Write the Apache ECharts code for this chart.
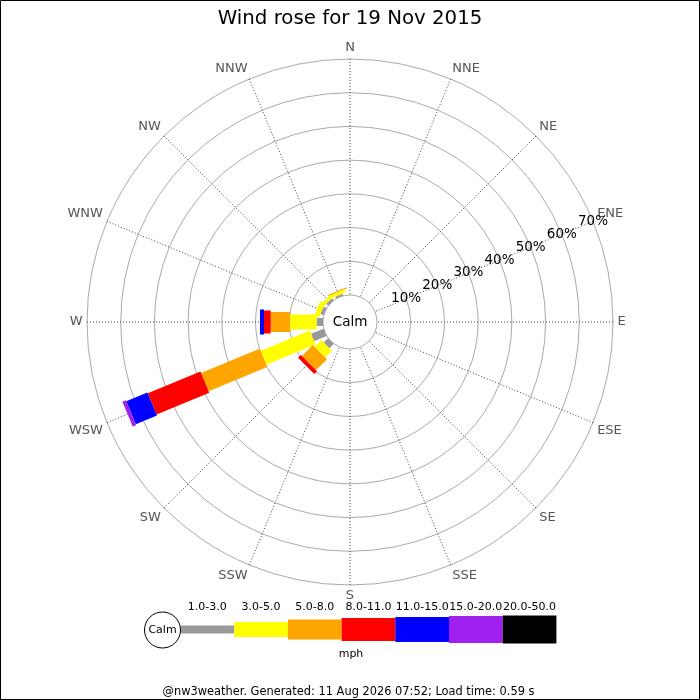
<!DOCTYPE html>
<html><head><meta charset="utf-8">
<script src="https://cdn.jsdelivr.net/npm/echarts@6/dist/echarts.min.js"></script>
<style>html,body{margin:0;padding:0;background:#fff}#c{width:700px;height:700px}</style>
</head><body><div id="c"></div>
<script>
// ---- data ----
const directions = ['N','NNE','NE','ENE','E','ESE','SE','SSE','S','SSW','SW','WSW','W','WNW','NW','NNW'];
const speedBins = ['1.0-3.0','3.0-5.0','5.0-8.0','8.0-11.0','11.0-15.0','15.0-20.0','20.0-50.0'];
// percentage of time, per direction (N..NNW), per speed bin (mph)
const bin1_3   = [0,0,0,0,0,0,0,0,0,0,1.8, 4.0,1.9,1.0,0.8,0.6];
const bin3_5   = [0,0,0,0,0,0,0,0,0,0,2.8,15.8,7.9,1.5,1.0,1.0];
const bin5_8   = [0,0,0,0,0,0,0,0,0,0,4.6,18.8,5.7,0,0,0.3];
const bin8_11  = [0,0,0,0,0,0,0,0,0,0,1.2,16.9,2.0,0,0,0];
const bin11_15 = [0,0,0,0,0,0,0,0,0,0,0, 6.8,1.2,0,0,0];
const bin15_20 = [0,0,0,0,0,0,0,0,0,0,0, 1.1,0,0,0,0];
const bin20_50 = [0,0,0,0,0,0,0,0,0,0,0, 0,0,0,0,0];
const binValues = [bin1_3, bin3_5, bin5_8, bin8_11, bin11_15, bin15_20, bin20_50];
const radiusTickLabels = ['', '10%','20%','30%','40%','50%','60%','70%'];

// ---- styles ----
const binColors = ['#999999','#ffff00','#ffa500','#ff0000','#0000ff','#a020f0','#000000'];
const binWidths = [8, 15, 20, 23, 25, 27, 28];
const CENTER = [350, 322];
const RADII = [27, 263];

const chart = echarts.init(document.getElementById('c'), null, {renderer: 'canvas'});

function makeRender(width, color) {
  return function (params, api) {
    const r0 = api.value(0), r1 = api.value(1), ang = api.value(2);
    const a = api.coord([r0, ang]), b = api.coord([r1, ang]);
    const o = api.coord([0, ang]), f = api.coord([70, ang]);
    let ux = f[0] - o[0], uy = f[1] - o[1];
    const L = Math.hypot(ux, uy); ux /= L; uy /= L;
    const nx = -uy * width / 2, ny = ux * width / 2;
    return {
      type: 'polygon',
      shape: {points: [[a[0]+nx, a[1]+ny], [b[0]+nx, b[1]+ny], [b[0]-nx, b[1]-ny], [a[0]-nx, a[1]-ny]]},
      style: {fill: color}
    };
  };
}

const cum = directions.map(() => 0);
const series = binValues.map((vals, k) => {
  const data = [];
  vals.forEach((v, i) => {
    const start = cum[i];
    cum[i] += v;
    if (v > 0) data.push([start, cum[i], i * 360 / directions.length]);
  });
  return {
    type: 'custom', name: speedBins[k], coordinateSystem: 'polar', polarIndex: 0,
    dimensions: ['r0', 'r1', 'angle'],
    encode: {radius: [0, 1], angle: 2},
    renderItem: makeRender(binWidths[k], binColors[k]),
    data: data, z: 5, silent: true
  };
});

// legend graphics
const graphics = [
  {type: 'rect', shape: {x: 0.5, y: 0.5, width: 699, height: 699}, style: {fill: null, stroke: '#000', lineWidth: 1}, z: 100},
  {type: 'text', x: CENTER[0], y: CENTER[1], style: {text: 'Calm', fontSize: 13.5, fontFamily: 'DejaVu Sans', fill: '#000', align: 'center', verticalAlign: 'middle'}, z: 100},
  {type: 'circle', shape: {cx: 162.5, cy: 630, r: 18}, style: {fill: '#fff', stroke: '#000', lineWidth: 1}, z: 100},
  {type: 'text', x: 162.5, y: 630, style: {text: 'Calm', fontSize: 11, fontFamily: 'DejaVu Sans', fill: '#000', align: 'center', verticalAlign: 'middle'}, z: 101},
  {type: 'text', x: 351, y: 654, style: {text: 'mph', fontSize: 11, fontFamily: 'DejaVu Sans', fill: '#000', align: 'center', verticalAlign: 'middle'}, z: 100},
  {type: 'text', x: 348.5, y: 692, style: {text: '@nw3weather. Generated: 11 Aug 2026 07:52; Load time: 0.59 s', fontSize: 11.4, fontFamily: 'DejaVu Sans', fill: '#000', align: 'center', verticalAlign: 'middle'}, z: 100}
];
const legX0 = 180.5, legW = 53.7, legCY = 629.5;
speedBins.forEach((lab, k) => {
  const x = legX0 + k * legW;
  graphics.push({type: 'rect', shape: {x: x, y: legCY - binWidths[k] / 2, width: legW, height: binWidths[k]}, style: {fill: binColors[k]}, z: 99});
  graphics.push({type: 'text', x: x + legW / 2, y: 607, style: {text: lab, fontSize: 11, fontFamily: 'DejaVu Sans', fill: '#000', align: 'center', verticalAlign: 'middle'}, z: 100});
});

const option = {
  backgroundColor: '#fff',
  animation: false,
  title: {text: 'Wind rose for 19 Nov 2015', left: 'center', top: 4,
    textStyle: {fontSize: 19.8, fontWeight: 'normal', fontFamily: 'DejaVu Sans', color: '#000'}},
  polar: [
    {center: CENTER, radius: RADII},
    {center: CENTER, radius: RADII}
  ],
  angleAxis: [
    {polarIndex: 0, type: 'value', min: 0, max: 360, interval: 22.5, startAngle: 90, clockwise: true,
     axisLine: {show: false}, axisTick: {show: false},
     splitLine: {show: true, lineStyle: {color: '#444', type: [1, 2], width: 1}},
     axisLabel: {show: true, margin: 4.5, fontSize: 13, fontFamily: 'DejaVu Sans', color: '#555',
       formatter: v => v >= 360 ? '' : directions[Math.round(v / 22.5) % 16]}},
    {polarIndex: 1, type: 'value', min: 0, max: 360, startAngle: 22.5, show: false}
  ],
  radiusAxis: [
    {polarIndex: 0, type: 'value', min: 0, max: 70, interval: 10,
     axisLine: {show: false}, axisTick: {show: false}, axisLabel: {show: false},
     splitLine: {show: true, lineStyle: {color: '#aaa', width: 1, type: 'solid'}}},
    {polarIndex: 1, type: 'value', min: 0, max: 70, interval: 10,
     axisLine: {show: false}, axisTick: {show: false}, splitLine: {show: false},
     axisLabel: {show: true, margin: 0, fontSize: 13.5, fontFamily: 'DejaVu Sans', color: '#000',
       align: 'center', verticalAlign: 'middle',
       formatter: v => radiusTickLabels[Math.round(v / 10)] || ''}, z: 10}
  ],
  graphic: graphics,
  series: series
};
chart.setOption(option);
</script>
</body></html>
